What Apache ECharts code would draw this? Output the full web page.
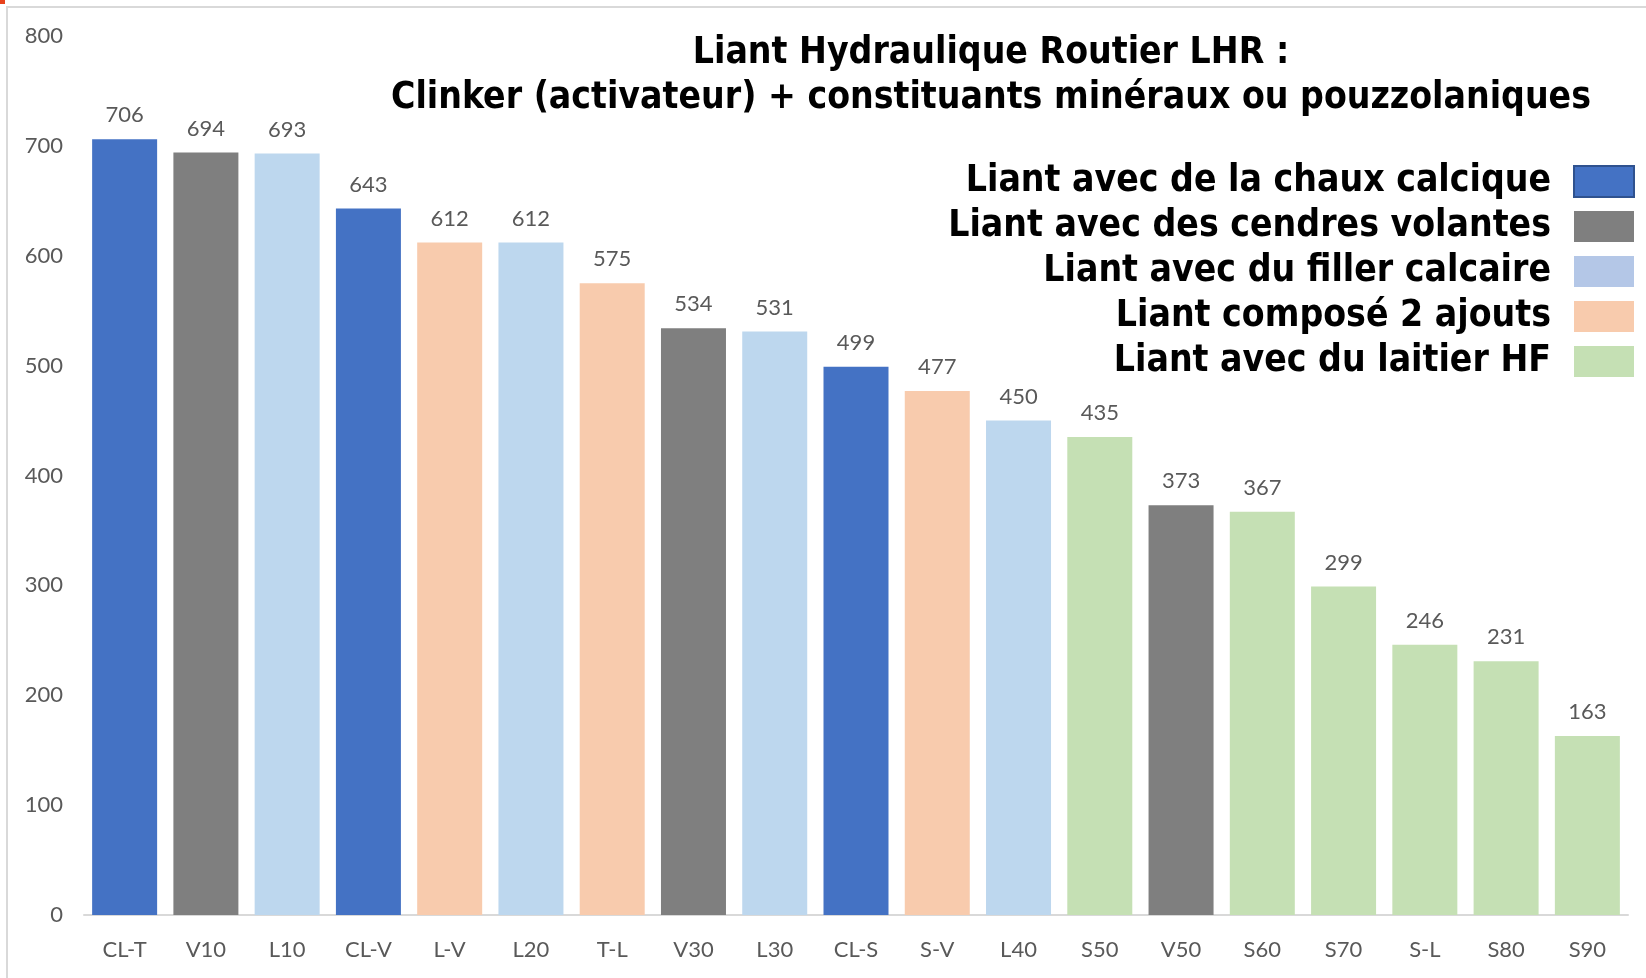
<!DOCTYPE html>
<html>
<head>
<meta charset="utf-8">
<script src="https://cdn.jsdelivr.net/npm/echarts@6/dist/echarts.min.js"></script>
<style>
html, body { margin: 0; padding: 0; background: #fff; }
#chart { width: 1646px; height: 978px; }
</style>
</head>
<body>
<div id="chart"></div>
<script>
var categories = ['CL-T', 'V10', 'L10', 'CL-V', 'L-V', 'L20', 'T-L', 'V30', 'L30', 'CL-S',
                  'S-V', 'L40', 'S50', 'V50', 'S60', 'S70', 'S-L', 'S80', 'S90'];
var values = [706, 694, 693, 643, 612, 612, 575, 534, 531, 499,
              477, 450, 435, 373, 367, 299, 246, 231, 163];
// type de liant de chaque barre (indice dans groupNames)
var groups = [0, 1, 2, 0, 3, 2, 3, 1, 2, 0,
              3, 2, 4, 1, 4, 4, 4, 4, 4];
var groupNames = ['Liant avec de la chaux calcique', 'Liant avec des cendres volantes',
                  'Liant avec du filler calcaire', 'Liant composé 2 ajouts',
                  'Liant avec du laitier HF'];
var barColors = ['#4472C4', '#7F7F7F', '#BDD7EE', '#F8CBAD', '#C5E0B4'];
var legendColors = ['#4472C4', '#7F7F7F', '#B4C7E7', '#F8CBAD', '#C5E0B4'];
var yTicks = [0, 800, 100];

var myChart = echarts.init(document.getElementById('chart'));

var series = [];
for (var g = 0; g < groupNames.length; g++) {
    var d = [];
    for (var i = 0; i < values.length; i++) {
        d.push(groups[i] === g ? values[i] : '-');
    }
    series.push({
        name: groupNames[g],
        type: 'bar',
        stack: 'all',
        barWidth: 65,
        data: d,
        itemStyle: { color: barColors[g] },
        label: {
            show: true,
            position: 'top',
            distance: 13,
            color: '#595959',
            fontFamily: 'Lato',
            fontSize: 22
        }
    });
}

var legendData = groupNames.map(function (n, k) {
    var st = { color: legendColors[k] };
    if (k === 0) { st.borderColor = '#2F528F'; st.borderWidth = 2; }
    return { name: n, itemStyle: st };
});

var option = {
    animation: false,
    backgroundColor: '#fff',
    title: {
        text: 'Liant Hydraulique Routier LHR :\nClinker (activateur) + constituants minéraux ou pouzzolaniques',
        left: 986,
        top: 26,
        textAlign: 'center',
        textStyle: {
            fontFamily: 'DejaVu Sans Condensed',
            fontWeight: 'bold',
            fontSize: 37,
            lineHeight: 45,
            color: '#000'
        }
    },
    legend: {
        orient: 'vertical',
        right: 6,
        top: 158,
        align: 'right',
        itemWidth: 60,
        itemHeight: 31,
        itemGap: 8,
        icon: 'rect',
        selectedMode: false,
        data: legendData,
        textStyle: {
            fontFamily: 'DejaVu Sans Condensed',
            fontWeight: 'bold',
            fontSize: 37,
            color: '#000',
            padding: [0, 18, 0, 0]
        }
    },
    graphic: [
        { type: 'rect', shape: { x: 7, y: 7, width: 1700, height: 1000 },
          style: { fill: 'none', stroke: '#D9D9D9', lineWidth: 2 }, silent: true },
        { type: 'rect', shape: { x: 0, y: 0, width: 5, height: 4 },
          style: { fill: '#E8421C' }, silent: true }
    ],
    grid: { left: 84, right: 18, top: 36, bottom: 63 },
    xAxis: {
        type: 'category',
        data: categories,
        axisLine: { lineStyle: { color: '#D9D9D9', width: 2 } },
        axisTick: { show: false },
        axisLabel: { color: '#595959', fontFamily: 'Lato', fontSize: 22, margin: 24 }
    },
    yAxis: {
        type: 'value',
        min: yTicks[0],
        max: yTicks[1],
        interval: yTicks[2],
        axisLine: { show: false },
        axisTick: { show: false },
        splitLine: { show: false },
        axisLabel: { color: '#595959', fontFamily: 'Lato', fontSize: 22, margin: 21 }
    },
    series: series
};

myChart.setOption(option);
</script>
</body>
</html>
